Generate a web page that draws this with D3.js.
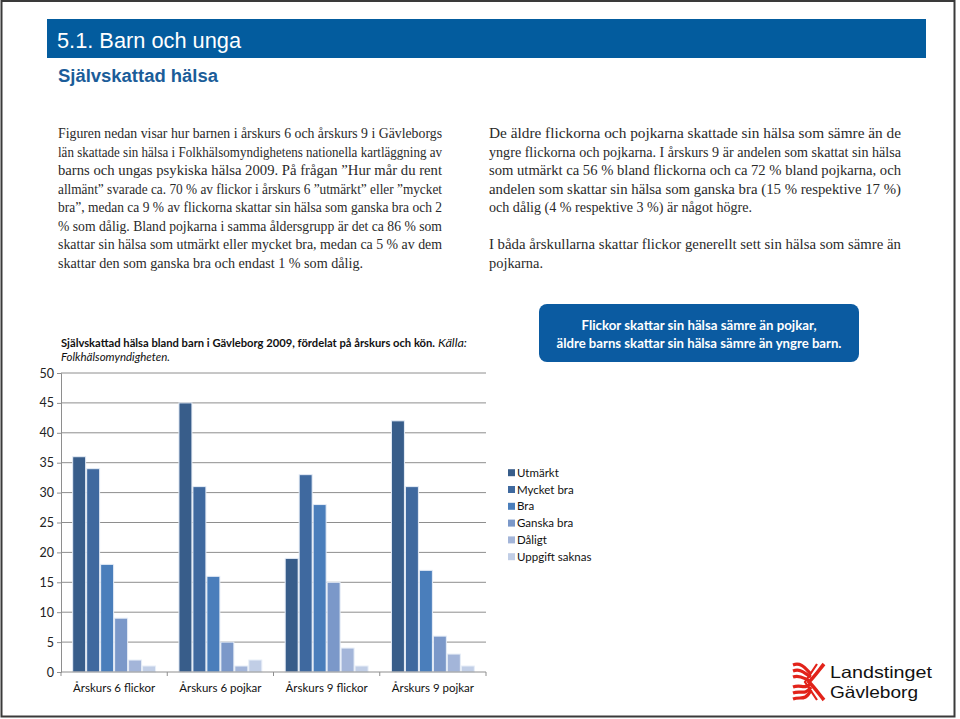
<!DOCTYPE html>
<html><head><meta charset="utf-8">
<script src="https://cdn.jsdelivr.net/npm/d3@7"></script>
<style>html,body{margin:0;padding:0;background:#fff;}svg{display:block;}</style>
</head><body>
<svg id="c" width="960" height="719"></svg>
<script>
// ---- data ----
const categories = ["Årskurs 6 flickor", "Årskurs 6 pojkar", "Årskurs 9 flickor", "Årskurs 9 pojkar"];
const seriesNames = ["Utmärkt", "Mycket bra", "Bra", "Ganska bra", "Dåligt", "Uppgift saknas"];
const utmarkt = [36, 45, 19, 42];
const mycketBra = [34, 31, 33, 31];
const bra = [18, 16, 28, 17];
const ganskaBra = [9, 5, 15, 6];
const daligt = [2, 1, 4, 3];
const uppgiftSaknas = [1, 2, 1, 1];
const yTicks = [0, 5, 10, 15, 20, 25, 30, 35, 40, 45, 50];
const colors = ["#385d8a", "#3f699f", "#4a7ebb", "#7b98c9", "#a3b5d9", "#c1cee6"];

const seriesValues = [utmarkt, mycketBra, bra, ganskaBra, daligt, uppgiftSaknas];

const leftText = [
 "Figuren nedan visar hur barnen i årskurs 6 och årskurs 9 i Gävleborgs",
 "län skattade sin hälsa i Folkhälsomyndighetens nationella kartläggning av",
 "barns och ungas psykiska hälsa 2009. På frågan ”Hur mår du rent",
 "allmänt” svarade ca. 70 % av flickor i årskurs 6 ”utmärkt” eller ”mycket",
 "bra”, medan ca 9 % av flickorna skattar sin hälsa som ganska bra och 2",
 "% som dålig. Bland pojkarna i samma åldersgrupp är det ca 86 % som",
 "skattar sin hälsa som utmärkt eller mycket bra, medan ca 5 % av dem",
 "skattar den som ganska bra och endast 1 % som dålig."
];
const rightText = [
 "De äldre flickorna och pojkarna skattade sin hälsa som sämre än de",
 "yngre flickorna och pojkarna. I årskurs 9 är andelen som skattat sin hälsa",
 "som utmärkt ca 56 % bland flickorna och ca 72 % bland pojkarna, och",
 "andelen som skattar sin hälsa som ganska bra (15 % respektive 17 %)",
 "och dålig (4 % respektive 3 %) är något högre.",
 "",
 "I båda årskullarna skattar flickor generellt sett sin hälsa som sämre än",
 "pojkarna."
];

const svg = d3.select("#c");

// frame
svg.append("rect").attr("x",1.5).attr("y",1).attr("width",953).attr("height",715.5)
  .attr("fill","none").attr("stroke","#3a3a3a").attr("stroke-width",2);

// header bar
svg.append("rect").attr("x",47).attr("y",19).attr("width",879).attr("height",39).attr("fill","#035c9e");
svg.append("text").attr("x",57).attr("y",48).attr("fill","#fff")
  .attr("font-family","'Liberation Sans Narrow','Liberation Sans',Arial,sans-serif")
  .attr("font-size",22).attr("textLength",184).attr("lengthAdjust","spacingAndGlyphs")
  .text("5.1. Barn och unga");
svg.append("text").attr("x",58).attr("y",82).attr("fill","#1b5d99")
  .attr("font-family","'Liberation Sans Narrow','Liberation Sans',Arial,sans-serif")
  .attr("font-weight","bold").attr("font-size",18).attr("textLength",160).attr("lengthAdjust","spacingAndGlyphs")
  .text("Självskattad hälsa");

// paragraphs
function para(lines, x0, x1, ys, lastNat) {
  lines.forEach((l, i) => {
    if (!l) return;
    const t = svg.append("text").attr("x", x0).attr("y", ys[i]).attr("fill","#2a2a2a")
      .attr("font-family","'Liberation Serif','DejaVu Serif',serif").attr("font-size",13.6).text(l);
    const justified = (i < lines.length - 1) && lines[i+1] !== "";
    if (justified) t.attr("textLength", x1 - x0).attr("lengthAdjust","spacingAndGlyphs");
    else if (lastNat[i]) t.attr("textLength", lastNat[i]).attr("lengthAdjust","spacingAndGlyphs");
  });
}
const ysL = [138, 156.5, 175, 193.5, 212, 230.5, 249, 267.5];
para(leftText, 58, 442, ysL, {7: 305});
const ysR = [138, 156.5, 175, 193.5, 212, 230.5, 249, 267.5];
para(rightText, 489, 901, ysR, {4: 263, 7: 54});

// callout box
svg.append("rect").attr("x",539).attr("y",304).attr("width",320).attr("height",58).attr("rx",8)
  .attr("fill","#0b5ba1");
const cb = svg.append("text").attr("fill","#fff").attr("font-family","Lato,'Open Sans',sans-serif")
  .attr("font-weight","bold").attr("font-size",12.5).attr("text-anchor","middle");
cb.append("tspan").attr("x",699).attr("y",330).attr("textLength",235).attr("lengthAdjust","spacingAndGlyphs")
  .text("Flickor skattar sin hälsa sämre än pojkar,");
cb.append("tspan").attr("x",699).attr("y",348).attr("textLength",285).attr("lengthAdjust","spacingAndGlyphs")
  .text("äldre barns skattar sin hälsa sämre än yngre barn.");

// chart title
svg.append("text").attr("x",61).attr("y",347).attr("fill","#111")
  .attr("font-family","Lato,'Open Sans',sans-serif").attr("font-weight","bold").attr("font-size",11)
  .attr("textLength",374).attr("lengthAdjust","spacingAndGlyphs")
  .text("Självskattad hälsa bland barn i Gävleborg 2009, fördelat på årskurs och kön.");
svg.append("text").attr("x",438).attr("y",347).attr("fill","#111")
  .attr("font-family","Lato,'Open Sans',sans-serif").attr("font-style","italic").attr("font-size",11)
  .attr("textLength",29).attr("lengthAdjust","spacingAndGlyphs").text("Källa:");
svg.append("text").attr("x",61).attr("y",361).attr("fill","#111")
  .attr("font-family","Lato,'Open Sans',sans-serif").attr("font-style","italic").attr("font-size",11)
  .attr("textLength",109).attr("lengthAdjust","spacingAndGlyphs").text("Folkhälsomyndigheten.");

// chart
const plotL = 61, plotR = 486, plotT = 373, plotB = 672;
const y = d3.scaleLinear().domain([0, 50]).range([plotB, plotT]);
const x0 = d3.scaleBand().domain(categories).range([plotL, plotR]).paddingInner(0).paddingOuter(0);
const x1 = d3.scaleBand().domain(seriesNames).range([0, x0.bandwidth()]).paddingInner(0).paddingOuter(0.8);

// gridlines
svg.append("g").selectAll("line").data(yTicks.filter(d => d > 0)).join("line")
  .attr("x1", plotL).attr("x2", plotR).attr("y1", d => y(d)).attr("y2", d => y(d))
  .attr("stroke","#8e8e8e").attr("stroke-width",1);

// y axis
const yAxis = svg.append("g").attr("transform",`translate(${plotL},0)`)
  .call(d3.axisLeft(y).tickValues(yTicks).tickSize(4).tickPadding(3));
yAxis.select(".domain").attr("stroke","#8e8e8e");
yAxis.selectAll(".tick line").attr("stroke","#8e8e8e");
yAxis.selectAll("text").attr("font-family","Lato,'Open Sans',sans-serif").attr("font-size",12.5).attr("fill","#222");

// bars
const barG = svg.append("g");
categories.forEach((c, ci) => {
  seriesNames.forEach((s, si) => {
    const v = seriesValues[si][ci];
    barG.append("rect")
      .attr("x", x0(c) + x1(s) + 0.5)
      .attr("width", x1.bandwidth() - 1)
      .attr("y", y(v))
      .attr("height", y(0) - y(v))
      .attr("fill", colors[si])
      .attr("stroke", "#e6edf7").attr("stroke-width", 1);
  });
});

// x axis
const xAxisG = svg.append("g").attr("transform",`translate(0,${plotB})`);
xAxisG.append("line").attr("x1",plotL).attr("x2",plotR).attr("stroke","#8e8e8e");
const bounds = categories.map(c => x0(c)).concat([x0(categories[categories.length-1]) + x0.bandwidth()]);
xAxisG.selectAll("line.tk").data(bounds).join("line").attr("class","tk")
  .attr("x1", d => d).attr("x2", d => d).attr("y1", 0).attr("y2", 4).attr("stroke","#8e8e8e");
xAxisG.selectAll("text").data(categories).join("text")
  .attr("x", d => x0(d) + x0.bandwidth()/2).attr("y", 20).attr("text-anchor","middle")
  .attr("font-family","Lato,'Open Sans',sans-serif").attr("font-size",11.5).attr("fill","#111")
  .text(d => d);

// legend
const lg = svg.append("g");
seriesNames.forEach((s, i) => {
  const cy = 472.7 + i * 16.8;
  lg.append("rect").attr("x",508).attr("y",cy-3.5).attr("width",7).attr("height",7).attr("fill",colors[i]);
  lg.append("text").attr("x",517).attr("y",cy+4).attr("font-family","Lato,'Open Sans',sans-serif")
    .attr("font-size",11.5).attr("fill","#111").text(s);
});

// logo
const logo = svg.append("g").attr("transform","translate(793,662)");
const red = "#e2231a";
const wave = (y0, dy) => `M0,${y0} C8,${y0-3} 12,${y0+3} 18,${y0+dy}`;
[[3,9],[9,6],[15,4]].forEach(([a,b]) => logo.append("path").attr("d", wave(a, b)).attr("fill","none")
  .attr("stroke",red).attr("stroke-width",3.2));
[[37,-9],[31,-6],[25,-4]].forEach(([a,b]) => logo.append("path").attr("d", wave(a, b)).attr("fill","none")
  .attr("stroke",red).attr("stroke-width",3.2));
logo.append("path").attr("d","M31,2 C26,8 22,14 16,20 C22,26 26,32 31,38").attr("fill","none")
  .attr("stroke",red).attr("stroke-width",3.6);
logo.append("path").attr("d","M24,2 C20,8 16,14 12,20 C16,26 20,32 24,38").attr("fill","none")
  .attr("stroke",red).attr("stroke-width",2.2);
svg.append("text").attr("x",830).attr("y",678).attr("font-family","'Liberation Sans',Arial,sans-serif")
  .attr("font-size",16.5).attr("fill","#111").attr("textLength",102).attr("lengthAdjust","spacingAndGlyphs").text("Landstinget");
svg.append("text").attr("x",830).attr("y",698).attr("font-family","'Liberation Sans',Arial,sans-serif")
  .attr("font-size",16.5).attr("fill","#111").attr("textLength",88).attr("lengthAdjust","spacingAndGlyphs").text("Gävleborg");
</script>
</body></html>
